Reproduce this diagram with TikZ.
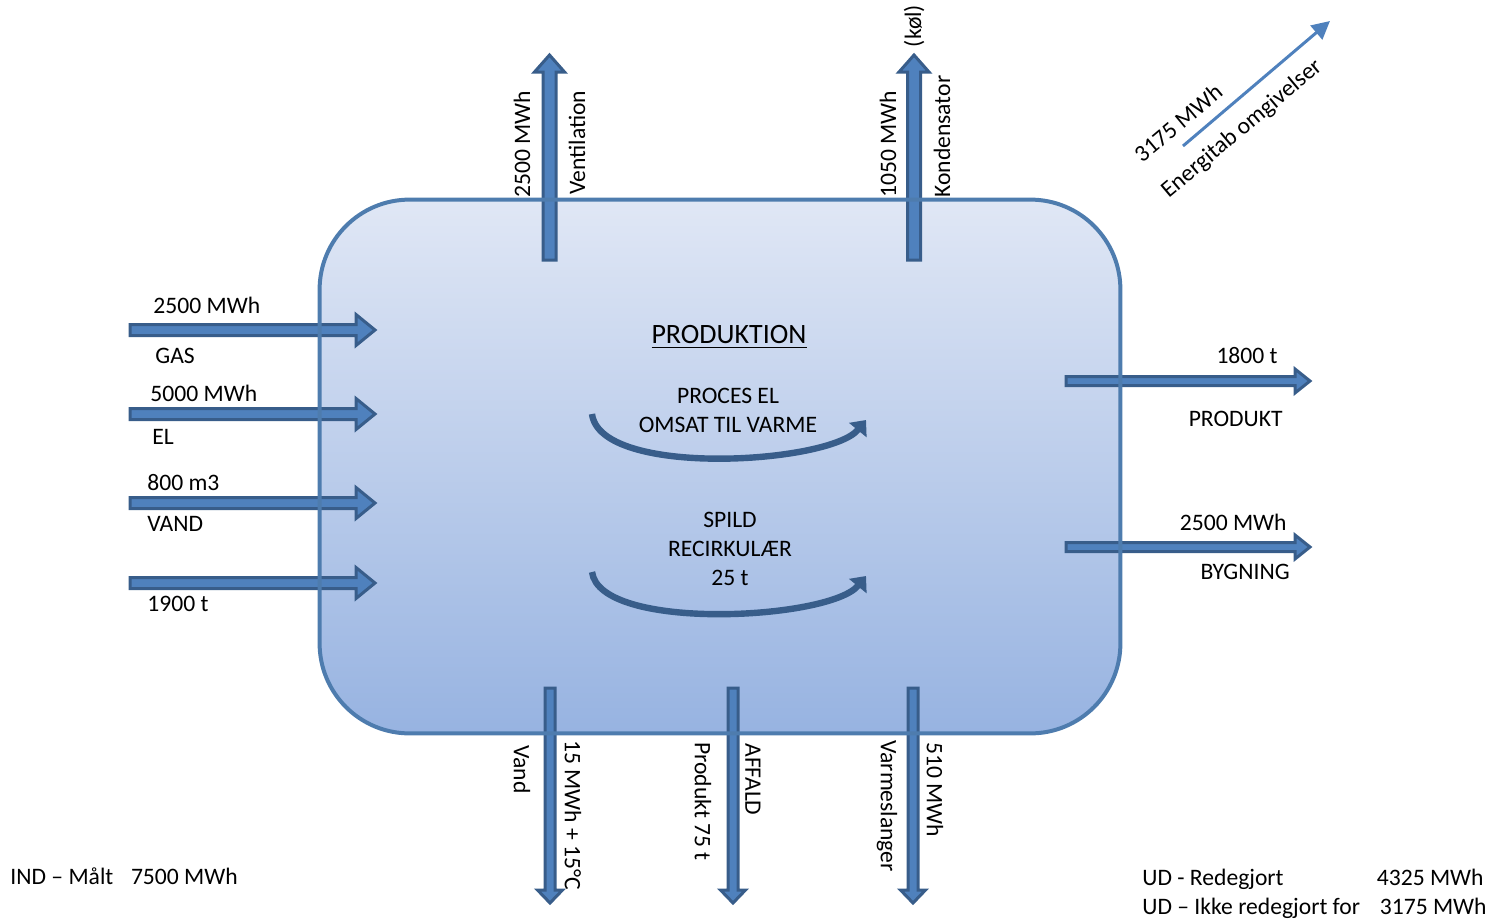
\documentclass[tikz,border=0pt]{standalone}
\usepackage{fontspec}
\setmainfont{Carlito}
\usetikzlibrary{arrows.meta}
\definecolor{boxline}{HTML}{4E7CAE}
\definecolor{boxtop}{HTML}{E0E7F5}
\definecolor{boxbot}{HTML}{97B3E1}
\definecolor{arrfill}{HTML}{4F81BD}
\definecolor{arrline}{HTML}{385D8A}
% right arrow: x1, xtip, y, shafthalf, headhalf, headlen
\newcommand\rarr[6]{\draw[blockarr] (#1,#3-#4) -- (#2-#6,#3-#4) -- (#2-#6,#3-#5) -- (#2,#3) -- (#2-#6,#3+#5) -- (#2-#6,#3+#4) -- (#1,#3+#4) -- cycle;}
% up arrow: x, ybottom, ytip, shafthalf, headhalf, headlen
\newcommand\uarr[6]{\draw[blockarr] (#1-#4,#2) -- (#1-#4,#3+#6) -- (#1-#5,#3+#6) -- (#1,#3) -- (#1+#5,#3+#6) -- (#1+#4,#3+#6) -- (#1+#4,#2) -- cycle;}
% down arrow: x, ytop, ytip, shafthalf, headhalf, headlen
\newcommand\darr[6]{\draw[blockarr] (#1-#4,#2) -- (#1-#4,#3-#6) -- (#1-#5,#3-#6) -- (#1,#3) -- (#1+#5,#3-#6) -- (#1+#4,#3-#6) -- (#1+#4,#2) -- cycle;}
\begin{document}
\begin{tikzpicture}[x=0.5pt,y=-0.5pt,
  font=\fontsize{11.8}{14.5}\selectfont,
  lbl/.style={inner sep=0pt},
  blockarr/.style={fill=arrfill, draw=arrline, line width=1.5pt, line join=miter},
  curvarr/.style={draw=arrline, line width=3.2pt, -{Triangle[length=6.5pt,width=11pt]}},
  diagarr/.style={draw=arrfill, line width=1.5pt, -{Triangle[length=9pt,width=9pt]}}]
\useasboundingbox (0,0) rectangle (1499,922);

% main box (fill)
\node[minimum width=400pt, minimum height=266.5pt, inner sep=0pt, rounded corners=45pt,
      top color=boxtop, bottom color=boxbot] (prod) at (720,466.5) {};

% inputs (left)
\rarr{130}{375}{330}{5.5}{15.5}{19}
\rarr{130}{375}{414}{5.5}{15.5}{19}
\rarr{130}{375}{503}{5.5}{15.5}{19}
\rarr{130}{375}{583}{5.5}{15.5}{19}
% outputs (right)
\rarr{1066}{1310}{381}{4.5}{12}{15}
\rarr{1066}{1310}{547}{4.5}{12}{15}
% top
\uarr{549.5}{260}{55}{6.5}{15}{17}
\uarr{914}{260}{55}{6.5}{15}{17}
% bottom
\darr{550}{688}{903}{5}{12.5}{13}
\darr{733}{688}{903}{5}{12.5}{13}
\darr{913}{688}{903}{5}{12.5}{13}

% box border on top
\draw[boxline, line width=2pt, rounded corners=45pt] (prod.north west) rectangle (prod.south east);

% curved arrows
\coordinate (c1s) at (592,414);
\coordinate (c1e) at (866,420);
\draw[curvarr] (c1s) .. controls (600,478) and (830,464) .. (c1e);
\coordinate (c2s) at (592,572);
\coordinate (c2e) at (866,576);
\draw[curvarr] (c2s) .. controls (600,632) and (830,620) .. (c2e);

% diagonal arrow
\coordinate (d1) at (1183,146);
\coordinate (d2) at (1330,21);
\draw[diagarr] (d1) -- (d2);
\node[lbl, rotate=40] (tloss) at (1178,123) {3175 MWh};
\node[lbl, rotate=40] (tlossb) at (1242,129) {Energitab omgivelser};

% centre texts
\node[lbl] (tprod) at (729,337) {\fontsize{14}{16}\selectfont\underline{PRODUKTION}};
\node[lbl, align=center] (tproc) at (728,410) {PROCES EL\\OMSAT TIL VARME};
\node[lbl, align=center] (tspild) at (730,549) {SPILD\\RECIRKULÆR\\25 t};

% left labels
\node[lbl, anchor=west] (l1) at (153,305) {2500 MWh};
\node[lbl, anchor=west] (l2) at (155,356) {GAS};
\node[lbl, anchor=west] (l3) at (150,393) {5000 MWh};
\node[lbl, anchor=west] (l4) at (152,437) {EL};
\node[lbl, anchor=west] (l5) at (147,483) {800 m3};
\node[lbl, anchor=west] (l6) at (147,524) {VAND};
\node[lbl, anchor=west] (l7) at (147,604) {1900 t};

% right labels
\node[lbl, anchor=east] (r1) at (1278,356) {1800 t};
\node[lbl, anchor=east] (r2) at (1283,419) {PRODUKT};
\node[lbl, anchor=east] (r3) at (1287,522) {2500 MWh};
\node[lbl, anchor=east] (r4) at (1290,572) {BYGNING};

% top labels
\node[lbl, rotate=90, anchor=west] (t1) at (522,198) {2500 MWh};
\node[lbl, rotate=90, anchor=west] (t2) at (577,195) {Ventilation};
\node[lbl, rotate=90, anchor=west] (t3) at (888,198) {1050 MWh};
\node[lbl, rotate=90, anchor=west] (t4) at (942,198) {Kondensator};
\node[lbl, rotate=90] (t5) at (914,26) {(køl)};

% bottom labels
\node[lbl, rotate=-90, anchor=west] (b1) at (522,745) {Vand};
\node[lbl, rotate=-90, anchor=west] (b2) at (573,740) {15 MWh + 15°C};
\node[lbl, rotate=-90, anchor=west] (b3) at (703,742) {Produkt 75 t};
\node[lbl, rotate=-90, anchor=west] (b4) at (753,743) {AFFALD};
\node[lbl, rotate=-90, anchor=west] (b5) at (887,740) {Varmeslanger};
\node[lbl, rotate=-90, anchor=west] (b6) at (935,742) {510 MWh};

% summary
\node[lbl, anchor=base west] (s1) at (10,884) {IND – Målt\hspace{0.75em}7500 MWh};
\node[lbl, anchor=base west] (s2) at (1142,885) {UD - Redegjort};
\node[lbl, anchor=base east] (s3) at (1484,885) {4325 MWh};
\node[lbl, anchor=base west] (s4) at (1142,914) {UD – Ikke redegjort for};
\node[lbl, anchor=base east] (s5) at (1487,914) {3175 MWh};
\end{tikzpicture}
\end{document}
